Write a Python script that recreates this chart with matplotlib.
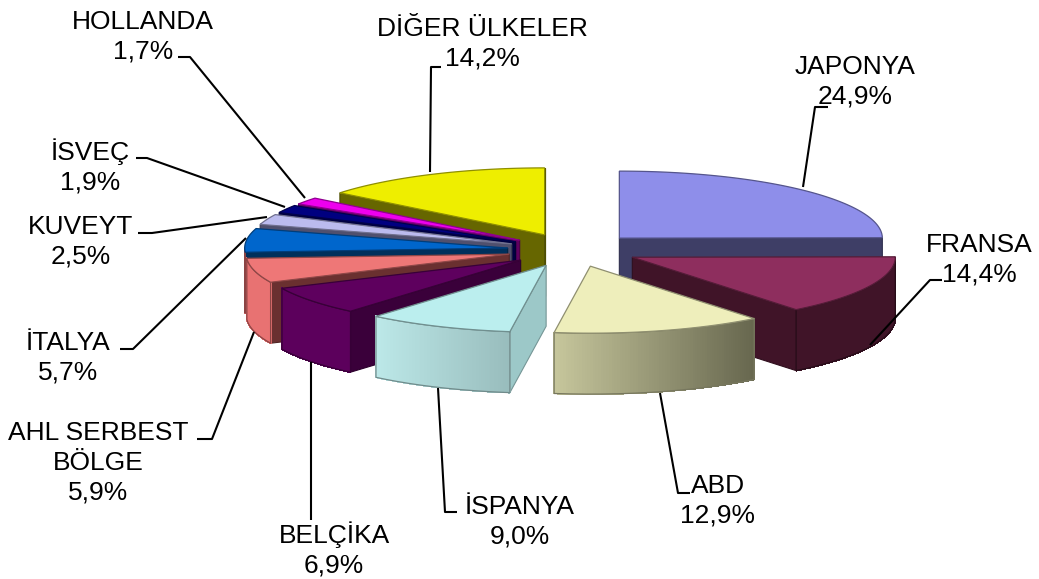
import numpy as np
import matplotlib
matplotlib.use("Agg")
import matplotlib.pyplot as plt
from matplotlib.patches import Polygon
from matplotlib.collections import PolyCollection
from matplotlib.colors import to_rgb

categories = ["JAPONYA", "FRANSA", "ABD", "İSPANYA", "BELÇİKA", "AHL SERBEST\nBÖLGE",
              "İTALYA", "KUVEYT", "İSVEÇ", "HOLLANDA", "DİĞER ÜLKELER"]
values = [24.9, 14.4, 12.9, 9.0, 6.9, 5.9, 5.7, 2.5, 1.9, 1.7, 14.2]
value_labels = ["24,9%", "14,4%", "12,9%", "9,0%", "6,9%", "5,9%", "5,7%", "2,5%", "1,9%", "1,7%", "14,2%"]

top_colors = ["#8E8EEA", "#8E2E5E", "#EEEEBB", "#BBEEEE", "#5E005E", "#EE7777",
              "#0066CC", "#BBBBEE", "#000080", "#EE00EE", "#EEEE00"]
radial_colors = ["#3E3E66", "#401428", "#66664E", "#9CC8C8", "#3A003A", "#6A3030",
                 "#00305C", "#50506E", "#000040", "#600060", "#666600"]
wall_left = ["#3E3E66", "#401428", "#C6C69C", "#BCE8E8", "#5C005C", "#E87272",
             "#E87272", "#50506E", "#000040", "#600060", "#666600"]
wall_right = ["#3E3E66", "#401428", "#66664E", "#98BCBC", "#5C005C", "#E87272",
              "#E87272", "#50506E", "#000040", "#600060", "#666600"]

W, H = 1039, 579
CX, CY, RX, RY = 573.0, 250.0, 263.0, 67.0
EXPLODE = 0.25
DEPTH = 0.91
draw_order = [10, 9, 8, 7, 6, 5, 4, 3, 0, 1, 2]

fig = plt.figure(figsize=(W / 100, H / 100), dpi=100, facecolor="white")
ax = fig.add_axes([0, 0, 1, 1])
ax.set_xlim(-CX / RX, (W - CX) / RX)
ax.set_ylim(-(H - CY) / RY, CY / RY)
ax.axis("off")


def px(x, y):
    return (x - CX) / RX, (CY - y) / RY


def darker(c, f=0.55):
    return tuple(v * f for v in to_rgb(c))


edges = np.cumsum([0] + values) / sum(values) * 2 * np.pi
for i in draw_order:
    a0, a1 = edges[i], edges[i + 1]
    mid = (a0 + a1) / 2
    ox, oy = EXPLODE * np.sin(mid), EXPLODE * np.cos(mid)
    t = np.linspace(a0, a1, 80)
    rim = np.column_stack([ox + np.sin(t), oy + np.cos(t)])
    apex = np.array([ox, oy])
    low = np.array([0, DEPTH])

    # radial walls: only the ones turned towards the viewer
    for a, visible in ((a0, np.sin(a0) < 0), (a1, np.sin(a1) > 0)):
        if not visible:
            continue
        r = apex + [np.sin(a), np.cos(a)]
        ax.add_patch(Polygon([apex, r, r - low, apex - low], closed=True,
                             facecolor=radial_colors[i], edgecolor=darker(radial_colors[i], 0.75),
                             lw=0.8, zorder=2))
    # outer wall, shaded segment by segment
    front = np.cos(t) < 0
    if front.sum() > 1:
        seg = rim[front]
        xs = seg[:, 0]
        f = (xs - xs.min()) / max(np.ptp(xs), 1e-6)
        c0, c1 = np.array(to_rgb(wall_left[i])), np.array(to_rgb(wall_right[i]))
        quads, cols = [], []
        for j in range(len(seg) - 1):
            quads.append([seg[j], seg[j + 1], seg[j + 1] - low, seg[j] - low])
            cols.append(c0 + (c1 - c0) * (f[j] + f[j + 1]) / 2)
        ax.add_collection(PolyCollection(quads, facecolors=cols, edgecolors=cols, lw=0.6,
                                         antialiaseds=False, zorder=2))
        outline = np.vstack([seg, (seg - low)[::-1], seg[:1]])
        ax.plot(outline[:, 0], outline[:, 1], color=darker(wall_left[i], 0.6), lw=0.9, zorder=2)
    # top face
    ax.add_patch(Polygon(np.vstack([apex, rim]), closed=True, facecolor=top_colors[i],
                         edgecolor=darker(top_colors[i], 0.6), lw=0.9, zorder=2))

leaders = [
    [(828, 107), (815, 107), (803, 187)],
    [(942, 280), (930, 280), (870, 345)],
    [(690, 493), (678, 493), (660, 393)],
    [(457, 512), (445, 512), (438, 388)],
    [(311, 520), (311, 362)],
    [(197, 439), (212, 439), (254, 332)],
    [(120, 349), (133, 349), (246, 238)],
    [(138, 233), (152, 233), (267, 217)],
    [(136, 158), (147, 158), (285, 207)],
    [(178, 57), (190, 57), (305, 198)],
    [(441, 67), (431, 67), (430, 172)],
]
label_pos = [(855, 82), (979, 260), (718, 501), (520, 522), (334, 549), (98, 463),
             (68, 358), (81, 242), (90, 166), (143, 37), (482, 44)]

for pts in leaders:
    d = np.array([px(*p) for p in pts])
    ax.plot(d[:, 0], d[:, 1], color="black", lw=1.5, zorder=3, solid_capstyle="butt")

for cat, val, pos in zip(categories, value_labels, label_pos):
    x, y = px(*pos)
    ax.text(x, y, f"{cat}\n{val}", ha="center", va="center", family="Liberation Sans",
            fontsize=19.0, color="black", linespacing=1.29, zorder=4)

fig.savefig("out.png", dpi=100, facecolor="white")
